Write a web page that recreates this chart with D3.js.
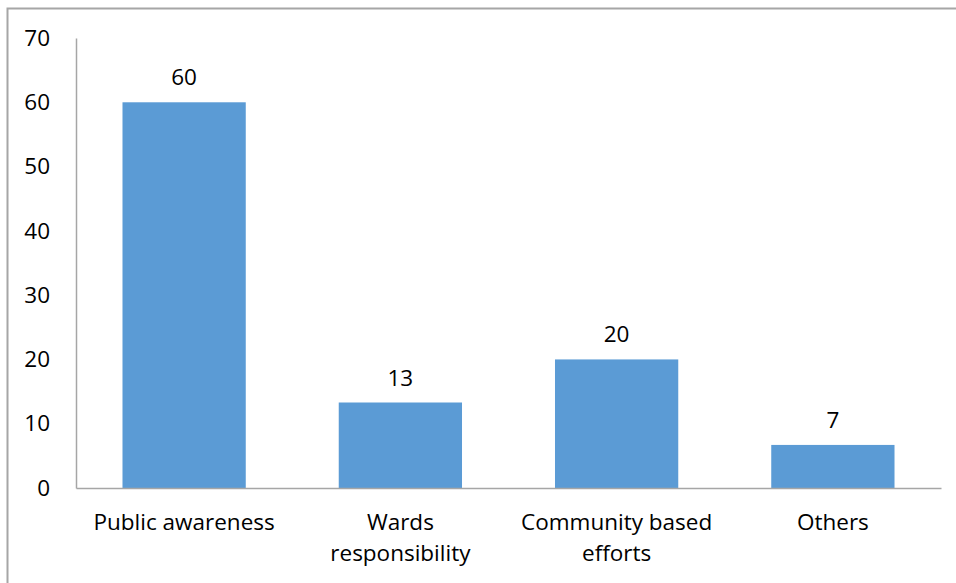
<!DOCTYPE html>
<meta charset="utf-8">
<head>
    <script src="https://d3js.org/d3.v7.min.js"></script>
</head>
<style>
    body { margin: 0; background: #fff; }
    text { font-family: 'Open Sans', 'Noto Sans', sans-serif; fill: #000; }
</style>
<div id="my_dataviz"></div>
<script>

    // data
    var categories = ["Public awareness", "Wards|responsibility", "Community based|efforts", "Others"];
    var values = [60, 13.3, 20, 6.7];
    var valueLabels = ["60", "13", "20", "7"];
    var yTicks = [0, 10, 20, 30, 40, 50, 60, 70];

    var W = 956, H = 583;
    var fs = "22.5px";
    var margin = {top: 38, right: 15, bottom: 95, left: 76},
        width = W - margin.left - margin.right,
        height = H - margin.top - margin.bottom;

    var root = d3.select("#my_dataviz")
        .append("svg")
        .attr("width", W)
        .attr("height", H);

    // outer frame (only top + left show in the picture)
    root.append("path")
        .attr("d", "M7.5," + (H + 2) + "V8.5H" + (W + 2))
        .attr("fill", "none")
        .attr("stroke", "#a6a6a6")
        .attr("stroke-width", 2);

    var svg = root.append("g")
        .attr("transform", "translate(" + margin.left + "," + margin.top + ")");

    var x = d3.scaleBand()
        .domain(categories)
        .range([0, width])
        .paddingInner(0.43)
        .paddingOuter(0.215);

    var y = d3.scaleLinear()
        .domain([0, 70])
        .range([height, 0]);

    // bars
    svg.append("g")
        .selectAll("rect")
        .data(values)
        .enter()
        .append("rect")
        .attr("x", function(d, i) { return x(categories[i]); })
        .attr("y", function(d) { return y(d); })
        .attr("width", x.bandwidth())
        .attr("height", function(d) { return y(0) - y(d); })
        .style("fill", "#5b9bd5");

    // value labels
    svg.append("g")
        .selectAll("text")
        .data(values)
        .enter()
        .append("text")
        .attr("x", function(d, i) { return x(categories[i]) + x.bandwidth() / 2; })
        .attr("y", function(d) { return y(d) - 17; })
        .attr("text-anchor", "middle")
        .style("font-size", fs)
        .text(function(d, i) { return valueLabels[i]; });

    // Y axis
    var yAxis = svg.append("g")
        .call(d3.axisLeft(y).tickValues(yTicks).tickSize(0).tickPadding(26));
    yAxis.select(".domain").attr("stroke", "#a6a6a6").attr("stroke-width", 1.5);
    yAxis.selectAll("text").style("font-size", fs).attr("fill", "#000");

    // X axis
    var xAxis = svg.append("g")
        .attr("transform", "translate(0," + height + ")")
        .call(d3.axisBottom(x).tickSize(0).tickFormat(""));
    xAxis.select(".domain").attr("stroke", "#a6a6a6").attr("stroke-width", 1.5);

    // category labels, wrapped on '|'
    svg.append("g")
        .selectAll("text")
        .data(categories)
        .enter()
        .append("text")
        .attr("text-anchor", "middle")
        .attr("transform", function(d) { return "translate(" + (x(d) + x.bandwidth() / 2) + "," + (height + 42) + ")"; })
        .style("font-size", fs)
        .each(function(d) {
            var lines = d.split("|");
            var t = d3.select(this);
            lines.forEach(function(l, i) {
                t.append("tspan").attr("x", 0).attr("dy", i === 0 ? 0 : 31).text(l);
            });
        });

</script>
